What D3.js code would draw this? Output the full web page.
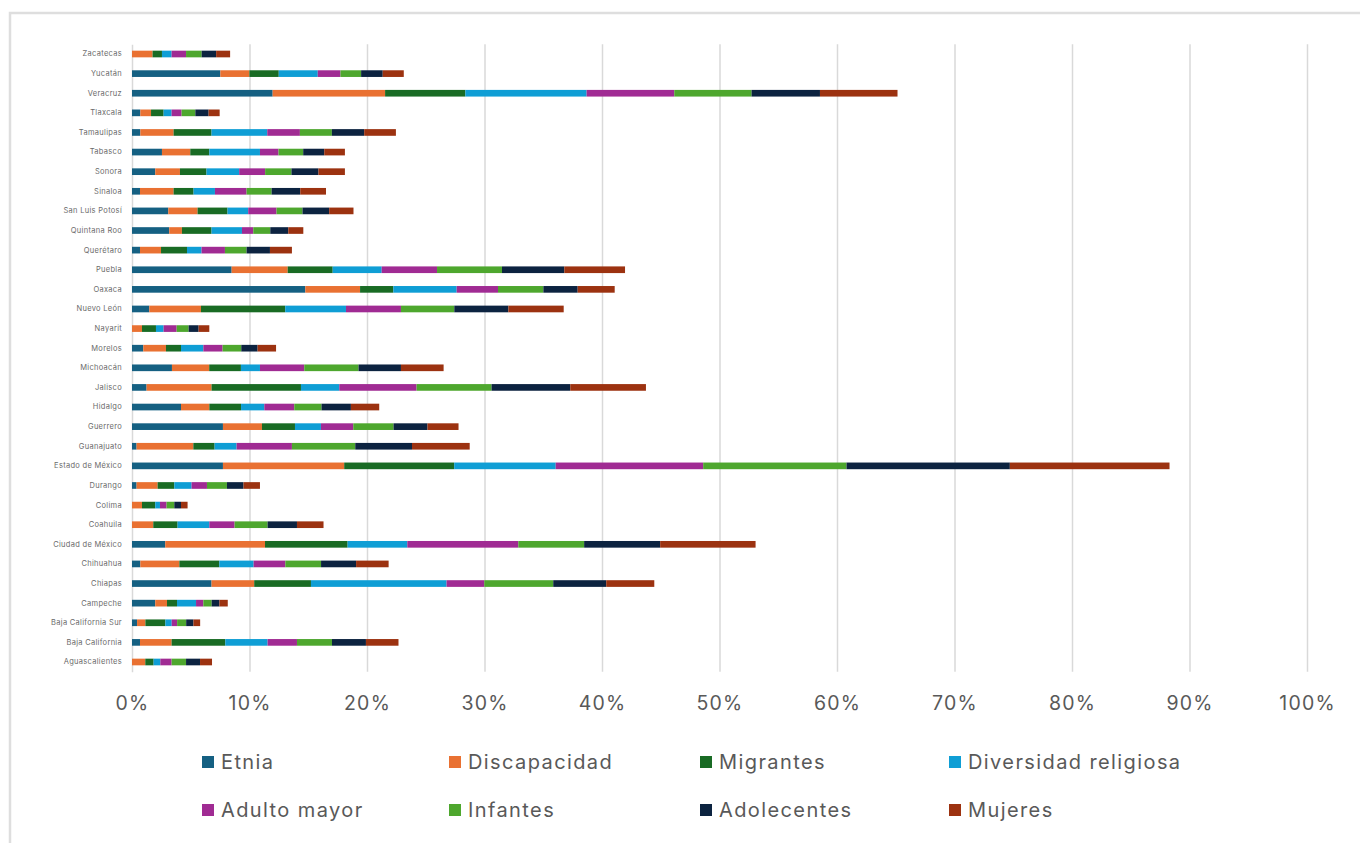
<!DOCTYPE html>
<html lang="es">
<head>
<meta charset="utf-8">
<title>Grupos por entidad federativa</title>
<script src="https://cdn.jsdelivr.net/npm/d3@7"></script>
<style>
  html, body { margin: 0; padding: 0; background: #ffffff; }
  svg { display: block; }
</style>
</head>
<body>
<svg id="chart" width="1360" height="843"></svg>
<script>
// Entidades federativas (orden de los datos; se dibujan de abajo hacia arriba)
const estados = [
  "Aguascalientes", "Baja California", "Baja California Sur", "Campeche", "Chiapas",
  "Chihuahua", "Ciudad de México", "Coahuila", "Colima", "Durango", "Estado de México",
  "Guanajuato", "Guerrero", "Hidalgo", "Jalisco", "Michoacán", "Morelos", "Nayarit",
  "Nuevo León", "Oaxaca", "Puebla", "Querétaro", "Quintana Roo", "San Luis Potosí",
  "Sinaloa", "Sonora", "Tabasco", "Tamaulipas", "Tlaxcala", "Veracruz", "Yucatán", "Zacatecas"
];

// Porcentajes por grupo, en el mismo orden que `estados`
const etnia = [0, 0.68, 0.43, 1.98, 6.77, 0.71, 2.83, 0, 0, 0.39, 7.74, 0.39, 7.74, 4.17, 1.24, 3.4, 0.96, 0, 1.47, 14.75, 8.48, 0.68, 3.17, 3.09, 0.68, 1.98, 2.55, 0.71, 0.71, 11.97, 7.52, 0];
const discapacidad = [1.13, 2.69, 0.71, 1.0, 3.63, 3.32, 8.49, 1.81, 0.85, 1.79, 10.32, 4.83, 3.32, 2.41, 5.53, 3.17, 1.93, 0.85, 4.4, 4.66, 4.77, 1.79, 1.08, 2.49, 2.86, 2.1, 2.41, 2.83, 0.91, 9.57, 2.47, 1.75];
const migrantes = [0.71, 4.57, 1.7, 0.85, 4.83, 3.4, 7.03, 2.07, 1.13, 1.42, 9.36, 1.81, 2.81, 2.7, 7.61, 2.7, 1.28, 1.19, 7.17, 2.83, 3.83, 2.21, 2.52, 2.55, 1.7, 2.26, 1.62, 3.23, 1.07, 6.83, 2.5, 0.8];
const diversidadReligiosa = [0.57, 3.6, 0.54, 1.62, 11.54, 2.92, 5.08, 2.7, 0.4, 1.47, 8.64, 1.87, 2.21, 1.98, 3.26, 1.62, 1.9, 0.65, 5.17, 5.39, 4.17, 1.24, 2.59, 1.76, 1.82, 2.78, 4.31, 4.74, 0.68, 10.32, 3.32, 0.82];
const adultoMayor = [0.96, 2.5, 0.46, 0.62, 3.21, 2.7, 9.45, 2.15, 0.56, 1.31, 12.55, 4.71, 2.75, 2.55, 6.58, 3.77, 1.64, 1.11, 4.68, 3.52, 4.71, 1.99, 0.96, 2.41, 2.69, 2.21, 1.58, 2.78, 0.85, 7.46, 1.93, 1.23];
const infantes = [1.23, 2.98, 0.77, 0.71, 5.87, 3.04, 5.6, 2.81, 0.66, 1.7, 12.2, 5.39, 3.43, 2.32, 6.38, 4.62, 1.59, 1.02, 4.54, 3.86, 5.53, 1.84, 1.45, 2.21, 2.13, 2.24, 2.1, 2.72, 1.17, 6.58, 1.76, 1.33];
const adolecentes = [1.19, 2.89, 0.62, 0.66, 4.51, 2.98, 6.47, 2.5, 0.57, 1.41, 13.9, 4.83, 2.89, 2.5, 6.7, 3.61, 1.39, 0.85, 4.6, 2.92, 5.3, 1.99, 1.53, 2.27, 2.44, 2.3, 1.79, 2.75, 1.13, 5.82, 1.84, 1.23];
const mujeres = [1.02, 2.77, 0.57, 0.71, 4.09, 2.77, 8.12, 2.26, 0.56, 1.4, 13.59, 4.91, 2.64, 2.41, 6.44, 3.63, 1.57, 0.91, 4.71, 3.15, 5.17, 1.87, 1.28, 2.07, 2.19, 2.25, 1.76, 2.7, 0.94, 6.6, 1.79, 1.19];

const grupos = ["Etnia", "Discapacidad", "Migrantes", "Diversidad religiosa", "Adulto mayor", "Infantes", "Adolecentes", "Mujeres"];
const colores = ["#156082", "#E97132", "#196B24", "#0F9ED5", "#A02B93", "#4EA72E", "#0C2340", "#9C3210"];
const ticksX = [0, 10, 20, 30, 40, 50, 60, 70, 80, 90, 100];

const valores = [etnia, discapacidad, migrantes, diversidadReligiosa, adultoMayor, infantes, adolecentes, mujeres];

// Tabla por estado para d3.stack
const filas = estados.map((e, i) => {
  const fila = { estado: e };
  grupos.forEach((g, k) => { fila[g] = valores[k][i]; });
  return fila;
});
const series = d3.stack().keys(grupos)(filas);

const svg = d3.select("#chart");
const textGray = "#595959";
const gridGray = "#d9d9d9";

// Marco del gráfico
svg.append("rect")
  .attr("x", 10).attr("y", 13)
  .attr("width", 1400).attr("height", 900)
  .attr("fill", "#ffffff")
  .attr("stroke", "#dedede")
  .attr("stroke-width", 2.5);

const plot = { left: 132, right: 1307, top: 44.2, bottom: 671.8 };

const x = d3.scaleLinear().domain([0, 100]).range([plot.left, plot.right]);
const y = d3.scaleBand()
  .domain(estados.slice().reverse())
  .range([plot.top, plot.bottom])
  .paddingInner(0.66)
  .paddingOuter(0.33);

// Líneas de cuadrícula verticales
const xAxis = d3.axisBottom(x)
  .tickValues(ticksX)
  .tickSize(-(plot.bottom - plot.top))
  .tickFormat(d => d + "%");

const gx = svg.append("g")
  .attr("transform", `translate(0,${plot.bottom})`)
  .call(xAxis);
gx.select(".domain").remove();
gx.selectAll(".tick line")
  .attr("stroke", gridGray)
  .attr("stroke-width", 1.5);
gx.selectAll(".tick").filter(d => d === 0).select("line").remove();
gx.selectAll(".tick text")
  .attr("y", 31)
  .attr("dy", "0.35em")
  .attr("fill", textGray)
  .style("font-family", "Inter, 'Noto Sans', sans-serif")
  .style("font-size", "19.5px")
  .style("letter-spacing", "1.2px");

// Eje de categorías
const yAxis = d3.axisLeft(y).tickSize(0).tickPadding(10);
const gy = svg.append("g")
  .attr("transform", `translate(${plot.left},0)`)
  .call(yAxis);
gy.select(".domain").attr("stroke", gridGray).attr("stroke-width", 1.5);
gy.selectAll(".tick text")
  .attr("fill", "#6a6a6a")
  .style("font-family", "Inter, 'Noto Sans', sans-serif")
  .style("font-size", "7.5px")
  .style("letter-spacing", "0.3px");

// Barras apiladas
svg.append("g")
  .selectAll("g")
  .data(series)
  .join("g")
  .attr("fill", (d, i) => colores[i])
  .selectAll("rect")
  .data(d => d)
  .join("rect")
  .attr("x", d => x(d[0]))
  .attr("y", d => y(d.data.estado))
  .attr("width", d => Math.max(0, x(d[1]) - x(d[0])))
  .attr("height", y.bandwidth());

// Leyenda
const legendCols = [202, 449, 700, 949];
const legendRows = [762, 810];
const legend = svg.append("g")
  .selectAll("g")
  .data(grupos)
  .join("g")
  .attr("transform", (d, i) => `translate(${legendCols[i % 4]},${legendRows[Math.floor(i / 4)]})`);
legend.append("rect")
  .attr("x", 0).attr("y", -6)
  .attr("width", 12).attr("height", 12)
  .attr("fill", (d, i) => colores[i]);
legend.append("text")
  .attr("x", 19)
  .attr("dy", "0.35em")
  .attr("fill", textGray)
  .style("font-family", "Inter, 'Noto Sans', sans-serif")
  .style("font-size", "20px")
  .style("letter-spacing", "1.4px")
  .text(d => d);
</script>
</body>
</html>
